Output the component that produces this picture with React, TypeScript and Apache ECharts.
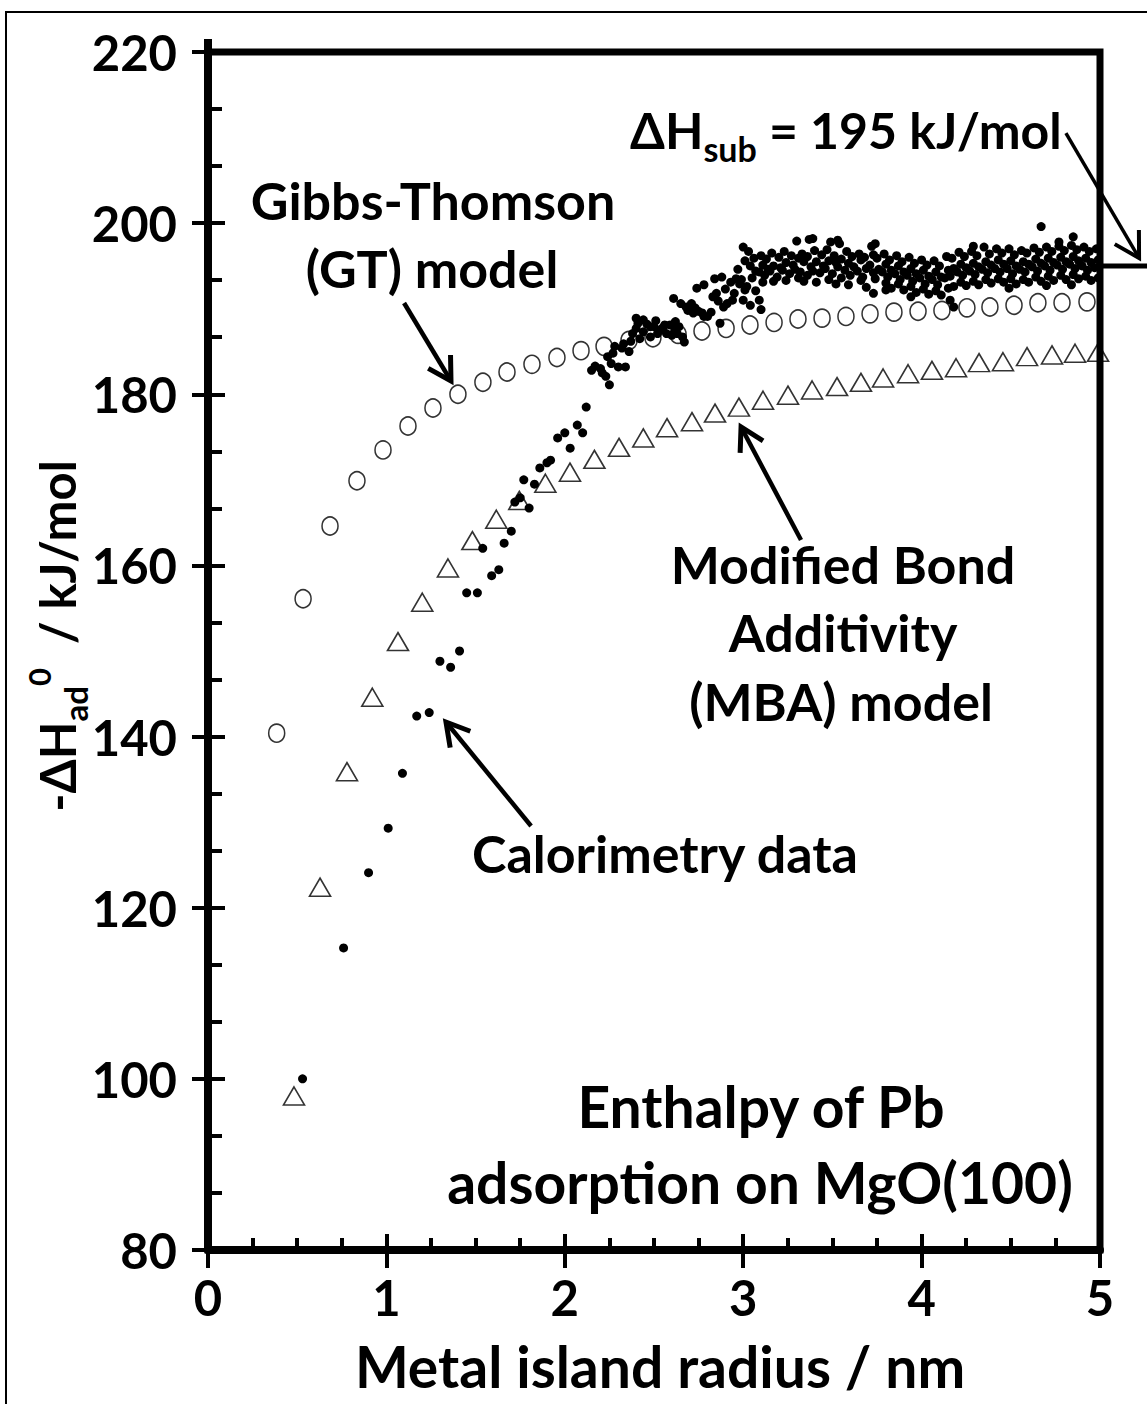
import React, { useEffect, useRef } from "react";
import * as echarts from "echarts";

// ---------- data ----------
const xTickValues = [0, 1, 2, 3, 4, 5];
const yTickValues = [80, 100, 120, 140, 160, 180, 200, 220];

// Gibbs-Thomson (GT) model (open circles)
const gtRadius = [0.385, 0.533, 0.684, 0.835, 0.981, 1.121, 1.261, 1.401, 1.541, 1.676, 1.816, 1.956, 2.091, 2.22, 2.36, 2.494, 2.635, 2.769, 2.904, 3.038, 3.173, 3.307, 3.442, 3.576, 3.711, 3.845, 3.98, 4.114, 4.254, 4.383, 4.518, 4.652, 4.787, 4.927];
const gtEnthalpy = [140.4, 156.1, 164.6, 169.9, 173.5, 176.3, 178.4, 180.0, 181.4, 182.6, 183.5, 184.3, 185.1, 185.6, 186.3, 186.6, 187.0, 187.4, 187.7, 188.1, 188.4, 188.8, 188.9, 189.1, 189.4, 189.6, 189.7, 189.8, 190.1, 190.2, 190.4, 190.7, 190.7, 190.8];

// Modified Bond Additivity (MBA) model (open triangles)
const mbaRadius = [0.482, 0.628, 0.779, 0.921, 1.065, 1.201, 1.345, 1.482, 1.616, 1.745, 1.891, 2.029, 2.166, 2.304, 2.44, 2.573, 2.713, 2.842, 2.976, 3.111, 3.251, 3.386, 3.526, 3.66, 3.784, 3.924, 4.058, 4.193, 4.322, 4.456, 4.591, 4.731, 4.86, 4.989];
const mbaEnthalpy = [98.0, 122.4, 135.9, 144.6, 151.1, 155.7, 159.7, 162.9, 165.4, 167.6, 169.6, 170.9, 172.4, 173.8, 174.9, 176.1, 176.8, 177.8, 178.5, 179.3, 179.9, 180.5, 180.9, 181.4, 181.9, 182.4, 182.8, 183.1, 183.7, 183.8, 184.4, 184.6, 184.8, 184.9];

// Calorimetry data (filled dots) [radius nm, -dH kJ/mol] — rising part
const calorimetryRise: [number, number][] = [
  [0.53, 100.0], [0.76, 115.3], [0.9, 124.1], [1.01, 129.3], [1.09, 135.7], [1.17, 142.4], [1.24, 142.8],
  [1.3, 148.8], [1.36, 148.1], [1.41, 150.0], [1.45, 156.8], [1.51, 156.8], [1.54, 162.0], [1.59, 158.8],
  [1.63, 159.5], [1.66, 162.6], [1.7, 164.0], [1.72, 167.4], [1.75, 167.9], [1.77, 170.0], [1.8, 166.7],
  [1.83, 169.5], [1.86, 171.4], [1.9, 172.0], [1.92, 172.3], [1.96, 174.9], [2.0, 175.5], [2.03, 173.7],
  [2.07, 176.4], [2.1, 175.5], [2.12, 178.5],
  [2.15, 182.8], [2.17, 183.3], [2.2, 183.0], [2.21, 182.5], [2.23, 182.1], [2.25, 181.1], [2.26, 183.6],
  [2.3, 183.2], [2.34, 183.2], [2.24, 184.4], [2.27, 184.8], [2.28, 185.6], [2.32, 185.4], [2.33, 185.9],
  [2.36, 185.0], [2.37, 186.2], [2.38, 187.1], [2.4, 188.9], [2.41, 188.3], [2.4, 187.7], [2.42, 186.5],
  [2.44, 188.7], [2.44, 187.3], [2.46, 188.2], [2.48, 186.7], [2.48, 187.9], [2.5, 187.9], [2.51, 188.6],
  [2.52, 187.1], [2.53, 187.5], [2.55, 187.8], [2.56, 188.1], [2.57, 187.1], [2.59, 188.1], [2.6, 186.9],
  [2.62, 188.5], [2.62, 187.5], [2.63, 187.1], [2.64, 187.9], [2.66, 186.7], [2.67, 186.1], [2.61, 191.2],
  [2.65, 190.6], [2.68, 190.2], [2.69, 189.8], [2.71, 190.6], [2.72, 189.5], [2.73, 190.1], [2.75, 189.7],
  [2.77, 189.5], [2.78, 189.1], [2.8, 189.1], [2.74, 192.4], [2.78, 192.8], [2.82, 189.6], [2.84, 193.5],
  [2.88, 193.7], [2.85, 191.8], [2.83, 191.4], [2.86, 190.9], [2.87, 188.3], [2.89, 190.2], [2.9, 192.3],
  [2.91, 190.6], [2.93, 193.1], [2.94, 191.0], [2.95, 191.8], [2.96, 193.5], [2.97, 194.6], [2.98, 192.9],
];

// Calorimetry data — plateau near the sublimation enthalpy
const calorimetryPlateau: [number, number][] = [
  [3.0, 197.2], [3.01, 195.6], [2.99, 193.4], [3.01, 192.2], [3.0, 191.0],
  [3.03, 196.7], [3.04, 195.0], [3.02, 192.6], [3.04, 190.4],
  [3.06, 195.9], [3.07, 194.4], [3.05, 193.6], [3.07, 192.1],
  [3.1, 196.2], [3.11, 195.1], [3.09, 194.3], [3.11, 193.1], [3.1, 189.9], [3.09, 191.0],
  [3.13, 195.8], [3.14, 194.6], [3.12, 193.9],
  [3.16, 196.5], [3.17, 195.0], [3.15, 194.4], [3.17, 193.2],
  [3.2, 196.0], [3.21, 194.8], [3.19, 193.7],
  [3.23, 196.7], [3.24, 195.4], [3.22, 194.5], [3.24, 193.3],
  [3.27, 196.2], [3.28, 195.1], [3.26, 194.1],
  [3.3, 197.9], [3.31, 195.9], [3.29, 194.6], [3.31, 193.6],
  [3.33, 196.4], [3.34, 195.5], [3.32, 194.3], [3.34, 193.2],
  [3.37, 198.1], [3.36, 196.1], [3.38, 194.9], [3.36, 193.9],
  [3.39, 198.2], [3.4, 196.8], [3.41, 195.5], [3.39, 194.4], [3.41, 193.1],
  [3.44, 196.3], [3.45, 195.0], [3.43, 194.2],
  [3.47, 196.9], [3.48, 195.6], [3.46, 194.7], [3.48, 193.4], [3.49, 197.8],
  [3.51, 196.2], [3.52, 195.4], [3.5, 194.1], [3.52, 192.9], [3.53, 198.0],
  [3.54, 197.6], [3.55, 195.8], [3.53, 194.9], [3.55, 193.6],
  [3.58, 196.7], [3.59, 195.3], [3.57, 194.5], [3.59, 192.8],
  [3.61, 196.1], [3.62, 194.9], [3.6, 193.9],
  [3.65, 196.4], [3.66, 195.7], [3.64, 194.4], [3.66, 193.3],
  [3.68, 196.0], [3.69, 194.7], [3.67, 193.7], [3.69, 192.5],
  [3.72, 197.3], [3.73, 196.3], [3.71, 195.1], [3.73, 194.2], [3.73, 191.8], [3.74, 197.6],
  [3.75, 195.9], [3.76, 194.6], [3.74, 193.5],
  [3.79, 196.4], [3.8, 195.2], [3.78, 194.3], [3.8, 193.0], [3.8, 192.2],
  [3.82, 195.7], [3.83, 194.5], [3.81, 193.7], [3.83, 192.4],
  [3.86, 196.2], [3.87, 195.0], [3.85, 194.1], [3.87, 192.9],
  [3.89, 195.5], [3.9, 194.3], [3.88, 193.4], [3.9, 192.2],
  [3.93, 196.0], [3.94, 194.7], [3.92, 193.9], [3.94, 192.6], [3.94, 191.4],
  [3.96, 195.3], [3.97, 194.1], [3.95, 193.2], [3.97, 191.9],
  [4.0, 195.7], [4.01, 194.5], [3.99, 193.6], [4.01, 192.3],
  [4.03, 195.1], [4.04, 193.8], [4.02, 192.9], [4.04, 191.7],
  [4.07, 195.6], [4.08, 194.3], [4.06, 193.4], [4.08, 192.1],
  [4.1, 195.0], [4.11, 193.7], [4.09, 192.8], [4.11, 191.6],
  [4.14, 196.1], [4.15, 194.5], [4.13, 193.6], [4.15, 192.4], [4.16, 191.0], [4.18, 190.2],
  [4.17, 195.9], [4.18, 194.7], [4.16, 193.8], [4.18, 192.6],
  [4.21, 196.6], [4.22, 195.2], [4.2, 194.3], [4.22, 193.1],
  [4.24, 196.1], [4.25, 194.8], [4.23, 193.9], [4.25, 192.7],
  [4.28, 196.7], [4.29, 195.3], [4.27, 194.4], [4.29, 193.2], [4.29, 197.3],
  [4.31, 196.2], [4.32, 194.9], [4.3, 194.0], [4.32, 192.8],
  [4.35, 197.2], [4.36, 195.5], [4.34, 194.6], [4.36, 193.4],
  [4.38, 196.4], [4.39, 195.1], [4.37, 194.2], [4.39, 193.0],
  [4.42, 197.0], [4.43, 195.7], [4.41, 194.7], [4.43, 193.5],
  [4.45, 196.5], [4.46, 195.2], [4.44, 194.3], [4.46, 193.1],
  [4.49, 197.0], [4.5, 195.6], [4.48, 194.7], [4.5, 193.5], [4.49, 192.4],
  [4.52, 196.3], [4.53, 195.0], [4.51, 194.1], [4.53, 192.9],
  [4.56, 196.8], [4.57, 195.5], [4.55, 194.6], [4.57, 193.4],
  [4.59, 196.5], [4.6, 195.2], [4.58, 194.3], [4.6, 193.1],
  [4.63, 197.1], [4.64, 195.8], [4.62, 194.9], [4.64, 193.7],
  [4.66, 196.6], [4.67, 195.3], [4.65, 194.4], [4.67, 193.2], [4.67, 199.6],
  [4.7, 197.2], [4.71, 195.9], [4.69, 195.0], [4.71, 193.8], [4.7, 192.7],
  [4.73, 196.7], [4.74, 195.4], [4.72, 194.5], [4.74, 193.3],
  [4.77, 197.3], [4.78, 196.0], [4.76, 195.1], [4.78, 193.9], [4.77, 197.8],
  [4.8, 196.8], [4.81, 195.5], [4.79, 194.6], [4.81, 193.4],
  [4.84, 197.4], [4.85, 196.1], [4.83, 195.2], [4.85, 194.0], [4.84, 192.8], [4.85, 198.4],
  [4.87, 196.9], [4.88, 195.6], [4.86, 194.7], [4.88, 193.5],
  [4.91, 197.2], [4.92, 195.9], [4.9, 195.0], [4.92, 193.8],
  [4.94, 196.7], [4.95, 195.4], [4.93, 194.5], [4.95, 193.3],
  [4.98, 197.0], [4.99, 195.7], [4.97, 194.8], [4.99, 193.6],
];

const sublimationEnthalpy = 195;

// annotation arrows: [start, tip] in data coordinates
const arrowGT: [number, number][] = [[1.099, 190.67], [1.362, 181.55]];
const arrowMBA: [number, number][] = [[3.324, 162.97], [2.988, 176.18]];
const arrowCal: [number, number][] = [[1.811, 129.55], [1.334, 141.7]];
const arrowSub: [number, number][] = [[4.809, 210.53], [5.219, 195.93]];

const FONT = "Lato";

export default function App() {
  const ref = useRef<HTMLDivElement>(null);

  useEffect(() => {
    const chart = echarts.init(ref.current!, null, { renderer: "svg" });
    const labelStyle = { fontFamily: FONT, fontWeight: "bold" as const, fontSize: 49, color: "#000" };

    chart.setOption({
      animation: false,
      backgroundColor: "#fff",
      grid: {
        left: 208,
        right: 47,
        top: 52,
        bottom: 154,
        show: true,
        borderColor: "#000",
        borderWidth: 7,
        backgroundColor: "transparent",
      },
      xAxis: [
        {
          type: "value",
          min: xTickValues[0],
          max: xTickValues[xTickValues.length - 1],
          interval: 1,
          position: "bottom",
          axisLine: { show: true, lineStyle: { color: "#000", width: 8 } },
          axisTick: { show: true, inside: false, length: 18, lineStyle: { color: "#000", width: 4 } },
          minorTick: { show: false },
          splitLine: { show: false },
          axisLabel: { ...labelStyle, margin: 22 },
        },
        {
          type: "value",
          min: xTickValues[0],
          max: xTickValues[xTickValues.length - 1],
          interval: 1,
          position: "bottom",
          axisLine: { show: false },
          axisTick: { show: true, inside: true, length: 16, lineStyle: { color: "#000", width: 4 } },
          minorTick: { show: true, splitNumber: 4, length: 12, lineStyle: { color: "#000", width: 4 } },
          splitLine: { show: false },
          axisLabel: { show: false },
        },
      ],
      yAxis: [
        {
          type: "value",
          min: yTickValues[0],
          max: yTickValues[yTickValues.length - 1],
          interval: 20,
          position: "left",
          axisLine: { show: true, lineStyle: { color: "#000", width: 8 } },
          axisTick: { show: true, inside: false, length: 16, lineStyle: { color: "#000", width: 4 } },
          minorTick: { show: false },
          splitLine: { show: false },
          axisLabel: { ...labelStyle, margin: 31 },
        },
        {
          type: "value",
          min: yTickValues[0],
          max: yTickValues[yTickValues.length - 1],
          interval: 20,
          position: "left",
          axisLine: { show: false },
          axisTick: { show: true, inside: true, length: 17, lineStyle: { color: "#000", width: 4 } },
          minorTick: { show: true, splitNumber: 3, length: 14, lineStyle: { color: "#000", width: 4 } },
          splitLine: { show: false },
          axisLabel: { show: false },
        },
      ],
      series: [
        {
          name: "GT model",
          type: "scatter",
          data: gtRadius.map((r, i) => [r, gtEnthalpy[i]]),
          symbol: "circle",
          symbolSize: [16, 18],
          itemStyle: { color: "rgba(0,0,0,0)", borderColor: "#000", borderWidth: 1.6 },
          z: 2,
        },
        {
          name: "MBA model",
          type: "scatter",
          data: mbaRadius.map((r, i) => [r, mbaEnthalpy[i]]),
          symbol: "triangle",
          symbolSize: [21, 18],
          itemStyle: { color: "rgba(0,0,0,0)", borderColor: "#000", borderWidth: 1.6 },
          z: 2,
        },
        {
          name: "Calorimetry data",
          type: "scatter",
          data: [...calorimetryRise, ...calorimetryPlateau],
          symbol: "circle",
          symbolSize: 9,
          itemStyle: { color: "#000", opacity: 1 },
          z: 3,
        },
      ],
    });

    const px = (p: [number, number]) => chart.convertToPixel({ seriesIndex: 0 }, p) as number[];

    const arrow = (pts: [number, number][], lw: number, head: number) => {
      const s = px(pts[0]);
      const t = px(pts[1]);
      const ang = Math.atan2(s[1] - t[1], s[0] - t[0]);
      const a1 = [t[0] + head * Math.cos(ang + Math.PI / 6), t[1] + head * Math.sin(ang + Math.PI / 6)];
      const a2 = [t[0] + head * Math.cos(ang - Math.PI / 6), t[1] + head * Math.sin(ang - Math.PI / 6)];
      return [
        { type: "line", silent: true, z: 10, shape: { x1: s[0], y1: s[1], x2: t[0], y2: t[1] }, style: { stroke: "#000", lineWidth: lw } },
        { type: "polyline", silent: true, z: 10, shape: { points: [a1, t, a2] }, style: { stroke: "#000", lineWidth: lw + 0.5, fill: null, lineJoin: "miter" } },
      ];
    };

    const txt = (text: string, x: number, y: number, size = 52, align = "center") => ({
      type: "text",
      silent: true,
      z: 10,
      x,
      y,
      style: {
        text,
        font: `bold ${size}px ${FONT}`,
        fill: "#000",
        align,
        verticalAlign: "middle",
        textAlign: align,
        textVerticalAlign: "middle",
      },
    });

    const top220 = px([0, 220]);
    const subL = px([5, sublimationEnthalpy]);

    const richSub = {
      m: { fontFamily: FONT, fontWeight: "bold", fontSize: 50, lineHeight: 70, color: "#000" },
      s: { fontFamily: FONT, fontWeight: "bold", fontSize: 34, lineHeight: 34, verticalAlign: "bottom", color: "#000" },
    };
    const richY = {
      m: { fontFamily: FONT, fontWeight: "bold", fontSize: 49, lineHeight: 68, color: "#000" },
      s: { fontFamily: FONT, fontWeight: "bold", fontSize: 33, lineHeight: 33, verticalAlign: "bottom", color: "#000" },
      p: { fontFamily: FONT, fontWeight: "bold", fontSize: 31, lineHeight: 31, verticalAlign: "top", color: "#000" },
    };

    chart.setOption({
      graphic: [
        // outer frame
        { type: "rect", silent: true, z: 0, shape: { x: 6, y: 12, width: 1300, height: 1500 }, style: { fill: null, stroke: "#000", lineWidth: 2 } },
        // y axis overshoot above top
        { type: "line", silent: true, z: 10, shape: { x1: top220[0], y1: top220[1] - 13, x2: top220[0], y2: top220[1] }, style: { stroke: "#000", lineWidth: 8 } },
        // sublimation enthalpy marker line
        { type: "line", silent: true, z: 10, shape: { x1: subL[0], y1: subL[1], x2: 1147, y2: subL[1] }, style: { stroke: "#000", lineWidth: 5 } },
        ...arrow(arrowGT, 4.5, 26),
        ...arrow(arrowMBA, 4.5, 26),
        ...arrow(arrowCal, 4.5, 26),
        ...arrow(arrowSub, 3.5, 28),
        txt("Gibbs-Thomson", 433, 200),
        txt("(GT) model", 432, 268),
        txt("Modified Bond", 843, 564),
        txt("Additivity", 843, 632),
        txt("(MBA) model", 841, 701),
        txt("Calorimetry data", 665, 853),
        txt("Enthalpy of Pb", 761, 1106, 57),
        txt("adsorption on MgO(100)", 760, 1182, 57),
        txt("Metal island radius / nm", 660, 1366, 57),
        {
          type: "text",
          silent: true,
          z: 10,
          x: 630,
          y: 130,
          style: {
            text: "{m|ΔH}{s|sub}{m| = 195 kJ/mol}",
            rich: richSub,
            align: "left",
            verticalAlign: "middle",
            textAlign: "left",
            textVerticalAlign: "middle",
          },
        },
        {
          type: "text",
          silent: true,
          z: 10,
          x: 57,
          y: 636,
          rotation: Math.PI / 2,
          style: {
            text: "{m|-ΔH}{s|ad}{p|0}{m|  / kJ/mol}",
            rich: richY,
            align: "center",
            verticalAlign: "middle",
            textAlign: "center",
            textVerticalAlign: "middle",
          },
        },
      ],
    });

    return () => chart.dispose();
  }, []);

  return <div ref={ref} style={{ position: "fixed", left: 0, top: 0, width: 1147, height: 1404, background: "#fff" }} />;
}
